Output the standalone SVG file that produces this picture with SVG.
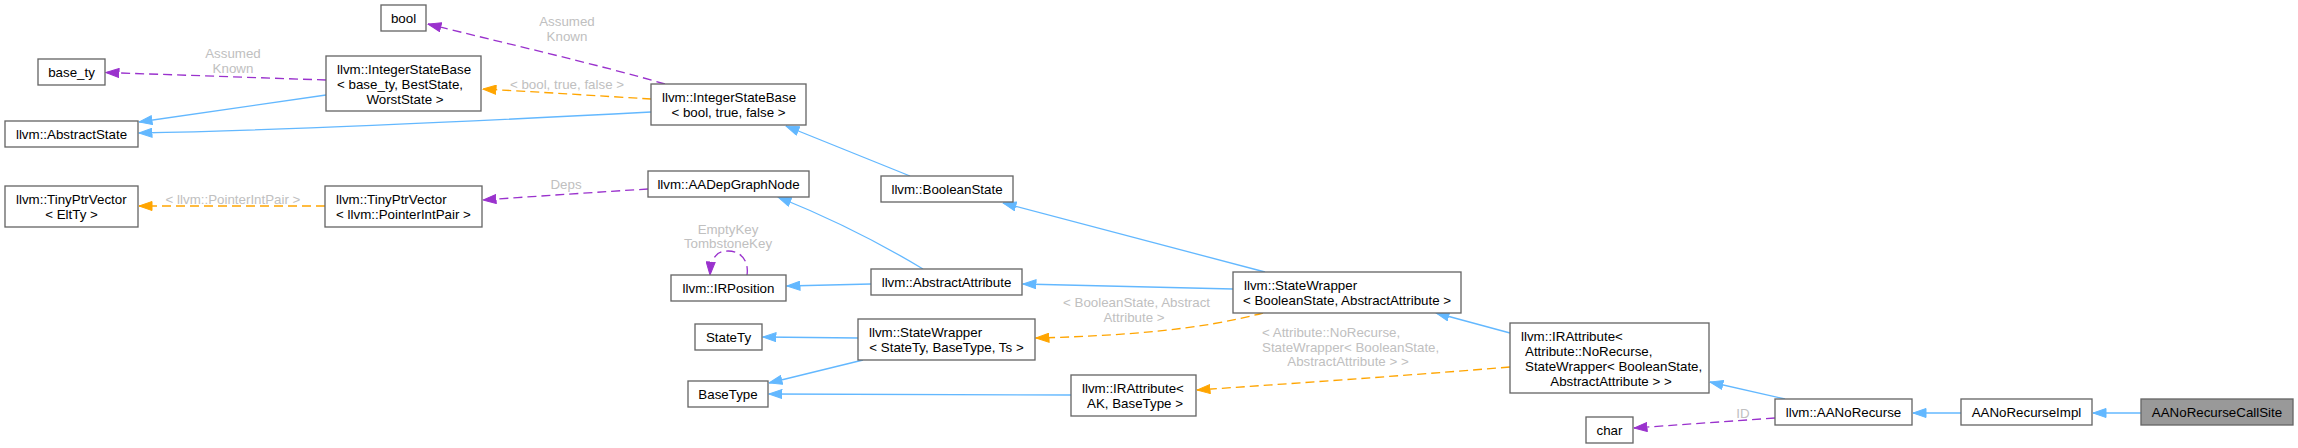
<svg xmlns="http://www.w3.org/2000/svg" width="2298" height="448" viewBox="0 0 2298 448">
<style>
.n rect{fill:#fff;stroke:#666;stroke-width:1.33}
.n.hl rect{fill:#999}
text{font-family:"Liberation Sans",Arial,Helvetica,sans-serif;font-size:13.33px;fill:#000}
.c{text-anchor:middle}
.s{text-anchor:start}
.lbl{fill:#c0c0c0}
.e{fill:none;stroke-width:1.33}
.b{stroke:#63b8ff;marker-end:url(#mb)}
.o{stroke:#ffa500;stroke-dasharray:9,5;marker-end:url(#mo)}
.p{stroke:#9a32cd;stroke-dasharray:9,5;marker-end:url(#mp)}
</style>
<defs>
<marker id="mb" viewBox="0 0 14 10" refX="13.5" refY="5" markerWidth="14" markerHeight="10" markerUnits="userSpaceOnUse" orient="auto"><path d="M0.5,0.5 L13.5,5 L0.5,9.5 z" fill="#63b8ff" stroke="#63b8ff" stroke-width="1"/></marker>
<marker id="mo" viewBox="0 0 14 10" refX="13.5" refY="5" markerWidth="14" markerHeight="10" markerUnits="userSpaceOnUse" orient="auto"><path d="M0.5,0.5 L13.5,5 L0.5,9.5 z" fill="#ffa500" stroke="#ffa500" stroke-width="1"/></marker>
<marker id="mp" viewBox="0 0 14 10" refX="13.5" refY="5" markerWidth="14" markerHeight="10" markerUnits="userSpaceOnUse" orient="auto"><path d="M0.5,0.5 L13.5,5 L0.5,9.5 z" fill="#9a32cd" stroke="#9a32cd" stroke-width="1"/></marker>
</defs>

<g id="connectors">
<path class="e p" d="M326,80 L106,72.5"/>
<text class="c lbl" x="233" y="58">Assumed</text>
<text class="c lbl" x="233" y="73">Known</text>
<path class="e b" d="M326,95 L139,122"/>
<path class="e b" d="M651,112 C480,121 300,130 139,133"/>
<path class="e p" d="M665,84 C600,65 500,42 428,24"/>
<text class="c lbl" x="567" y="26">Assumed</text>
<text class="c lbl" x="567" y="41">Known</text>
<path class="e o" d="M651,99 C600,96 540,92 483,89"/>
<text class="c lbl" x="567" y="89">&lt; bool, true, false &gt;</text>
<path class="e b" d="M910,176 L786,126"/>
<path class="e o" d="M325,206 L139,206"/>
<text class="c lbl" x="233" y="203.5">&lt; llvm::PointerIntPair &gt;</text>
<path class="e p" d="M648,189 C600,192 540,196 483,200"/>
<text class="c lbl" x="566" y="189">Deps</text>
<path class="e b" d="M923,269 C880,243 830,218 778,197"/>
<path class="e b" d="M871,284 L787,286"/>
<path class="e p" d="M747,275 C749,262 742,251 728,251 C718,251 711,256 710,275"/>
<text class="c lbl" x="728" y="233.5">EmptyKey</text>
<text class="c lbl" x="728" y="248">TombstoneKey</text>
<path class="e b" d="M1265,272 L1003,203"/>
<path class="e b" d="M1233,289 C1150,287 1080,285 1023,284"/>
<path class="e o" d="M1263,313 C1200,330 1120,336 1036,338"/>
<text class="s lbl" x="1063" y="307">&lt; BooleanState, Abstract</text>
<text class="c lbl" x="1134" y="322">Attribute &gt;</text>
<path class="e b" d="M1071,395 L769,394"/>
<path class="e b" d="M858,338 L763,337"/>
<path class="e b" d="M863,360 L769,383"/>
<path class="e b" d="M1510,333 L1436,313"/>
<path class="e o" d="M1510,367 C1400,376 1300,383 1197,390"/>
<text class="s lbl" x="1262" y="336.5">&lt; Attribute::NoRecurse,</text>
<text class="s lbl" x="1262" y="351.5">StateWrapper&lt; BooleanState,</text>
<text class="c lbl" x="1348" y="365.5">AbstractAttribute &gt; &gt;</text>
<path class="e b" d="M1785,399 L1710,382"/>
<path class="e p" d="M1775,418 L1634,428"/>
<text class="c lbl" x="1743" y="417.5">ID</text>
<path class="e b" d="M1961,413 L1913,413"/>
<path class="e b" d="M2141,413 L2093,413"/>
</g>

<g id="n_bool" class="n"><rect x="381" y="5" width="45" height="26"/><text class="c" x="403.5" y="22.5">bool</text></g>
<g id="n_base_ty" class="n"><rect x="38" y="59" width="67" height="26"/><text class="c" x="71.5" y="76.5">base_ty</text></g>
<g id="n_isb_base" class="n"><rect x="326" y="56" width="155" height="55"/>
<text class="s" x="337" y="73.5">llvm::IntegerStateBase</text>
<text class="s" x="337" y="88.5">&lt; base_ty, BestState,</text>
<text class="c" x="405" y="103.5">WorstState &gt;</text></g>
<g id="n_abstractstate" class="n"><rect x="5" y="121" width="133" height="26"/><text class="c" x="71.5" y="138.5">llvm::AbstractState</text></g>
<g id="n_tpv_elt" class="n"><rect x="5" y="186" width="133" height="41"/>
<text class="s" x="16" y="203.5">llvm::TinyPtrVector</text>
<text class="c" x="71.5" y="218.5">&lt; EltTy &gt;</text></g>
<g id="n_tpv_pip" class="n"><rect x="325" y="186" width="157" height="41"/>
<text class="s" x="336" y="203.5">llvm::TinyPtrVector</text>
<text class="c" x="403.5" y="218.5">&lt; llvm::PointerIntPair &gt;</text></g>
<g id="n_isb_bool" class="n"><rect x="651" y="84" width="155" height="41"/>
<text class="s" x="662" y="101.5">llvm::IntegerStateBase</text>
<text class="c" x="728.5" y="116.5">&lt; bool, true, false &gt;</text></g>
<g id="n_aadep" class="n"><rect x="648" y="171" width="161" height="26"/><text class="c" x="728.5" y="188.5">llvm::AADepGraphNode</text></g>
<g id="n_boolstate" class="n"><rect x="881" y="176" width="132" height="26"/><text class="c" x="947" y="193.5">llvm::BooleanState</text></g>
<g id="n_irpos" class="n"><rect x="671" y="275" width="115" height="26"/><text class="c" x="728.5" y="292.5">llvm::IRPosition</text></g>
<g id="n_absattr" class="n"><rect x="871" y="269" width="151" height="26"/><text class="c" x="946.5" y="286.5">llvm::AbstractAttribute</text></g>
<g id="n_statety" class="n"><rect x="695" y="324" width="67" height="26"/><text class="c" x="728.5" y="341.5">StateTy</text></g>
<g id="n_sw_statety" class="n"><rect x="858" y="319" width="177" height="41"/>
<text class="s" x="869" y="336.5">llvm::StateWrapper</text>
<text class="c" x="946.5" y="351.5">&lt; StateTy, BaseType, Ts &gt;</text></g>
<g id="n_basetype" class="n"><rect x="688" y="381" width="80" height="26"/><text class="c" x="728" y="398.5">BaseType</text></g>
<g id="n_irattr_ak" class="n"><rect x="1071" y="375" width="125" height="41"/>
<text class="s" x="1082" y="392.5">llvm::IRAttribute&lt;</text>
<text class="c" x="1135" y="407.5">AK, BaseType &gt;</text></g>
<g id="n_sw_bool" class="n"><rect x="1233" y="272" width="228" height="41"/>
<text class="s" x="1244" y="289.5">llvm::StateWrapper</text>
<text class="c" x="1347" y="304.5">&lt; BooleanState, AbstractAttribute &gt;</text></g>
<g id="n_irattr_nr" class="n"><rect x="1510" y="323" width="199" height="70"/>
<text class="s" x="1521" y="340.5">llvm::IRAttribute&lt;</text>
<text class="s" x="1525" y="355.5">Attribute::NoRecurse,</text>
<text class="s" x="1525" y="370.5">StateWrapper&lt; BooleanState,</text>
<text class="c" x="1611" y="385.5">AbstractAttribute &gt; &gt;</text></g>
<g id="n_char" class="n"><rect x="1586" y="417" width="47" height="26"/><text class="c" x="1609.5" y="434.5">char</text></g>
<g id="n_aanorecurse" class="n"><rect x="1775" y="399" width="137" height="26"/><text class="c" x="1843.5" y="416.5">llvm::AANoRecurse</text></g>
<g id="n_impl" class="n"><rect x="1961" y="399" width="131" height="26"/><text class="c" x="2026.5" y="416.5">AANoRecurseImpl</text></g>
<g id="n_callsite" class="n hl"><rect x="2141" y="399" width="152" height="26"/><text class="c" x="2217" y="416.5">AANoRecurseCallSite</text></g>
</svg>
